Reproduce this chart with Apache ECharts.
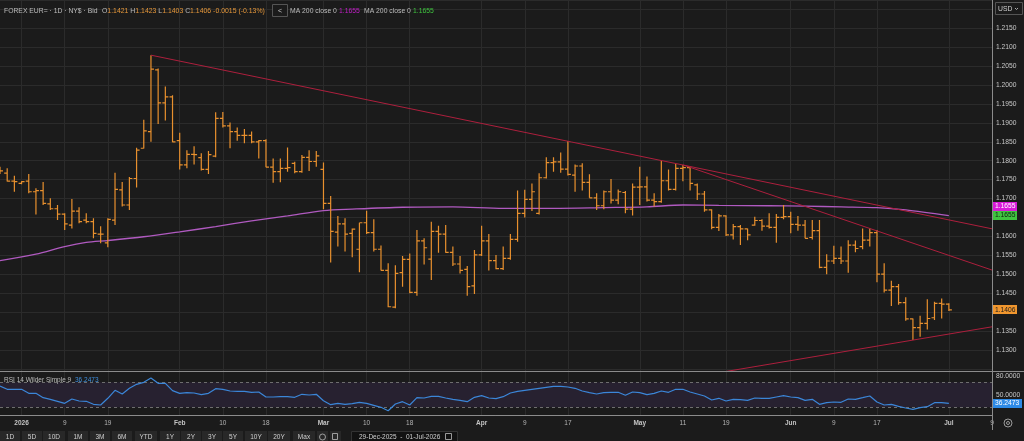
<!DOCTYPE html>
<html>
<head>
<meta charset="utf-8">
<script src="https://cdn.jsdelivr.net/npm/echarts@6.0.0/dist/echarts.min.js"></script>
<style>
html, body { margin: 0; padding: 0; background: #1b1b1b; }
#TreeContainer { width: 1024px; height: 441px; }
</style>
</head>
<body>
<div id="TreeContainer"></div>
<script>
// trading days shown on the axis: 29-Dec-2025 .. 09-Jul-2026 (weekdays)
let dates = [];
let day = new Date(Date.UTC(2025, 11, 29));
let lastDay = new Date(Date.UTC(2026, 6, 9));
while (day <= lastDay) {
    let wd = day.getUTCDay();
    if (wd !== 0 && wd !== 6) dates.push(day.toISOString().slice(0, 10));
    day.setUTCDate(day.getUTCDate() + 1);
}

let tickDates = ['2026-01-01','2026-01-09','2026-01-19','2026-02-02','2026-02-10','2026-02-18',
    '2026-03-02','2026-03-10','2026-03-18','2026-04-01','2026-04-09','2026-04-17',
    '2026-05-01','2026-05-11','2026-05-19','2026-06-01','2026-06-09','2026-06-17',
    '2026-07-01','2026-07-09'];
let tickLabels = ['2026','9','19','Feb','10','18','Mar','10','18','Apr','9','17',
    'May','11','19','Jun','9','17','Jul','9'];

// daily OHLC, one value per trading day from 29-Dec-2025 to 01-Jul-2026
let opens = [
1.1780,1.1767,1.1746,1.1740,1.1746,1.1718,1.1721,1.1686,1.1673,1.1659,
1.1630,1.1667,1.1643,1.1639,1.1606,1.1583,1.1643,1.1723,1.1683,1.1753,
1.1833,1.1877,1.2040,1.1953,1.1969,1.1853,1.1789,1.1817,1.1808,1.1777,
1.1812,1.1912,1.1892,1.1877,1.1867,1.1867,1.1850,1.1853,1.1783,1.1771,
1.1780,1.1793,1.1771,1.1809,1.1798,1.1777,1.1687,1.1611,1.1633,1.1608,
1.1566,1.1636,1.1610,1.1566,1.1510,1.1413,1.1504,1.1539,1.1452,1.1588,
1.1540,1.1613,1.1606,1.1558,1.1527,1.1513,1.1469,1.1551,1.1588,1.1536,
1.1515,1.1542,1.1592,1.1661,1.1698,1.1661,1.1755,1.1795,1.1797,1.1778,
1.1762,1.1786,1.1743,1.1702,1.1681,1.1718,1.1696,1.1716,1.1672,1.1730,
1.1731,1.1696,1.1692,1.1747,1.1724,1.1780,1.1782,1.1736,1.1712,1.1670,
1.1624,1.1654,1.1604,1.1626,1.1620,1.1630,1.1642,1.1627,1.1624,1.1650,
1.1652,1.1632,1.1630,1.1597,1.1615,1.1518,1.1535,1.1542,1.1535,1.1577,
1.1573,1.1590,1.1610,1.1500,1.1458,1.1467,1.1425,1.1382,1.1359,1.1370,
1.1385,1.1423,1.1421];
let highs = [
1.1784,1.1780,1.1760,1.1746,1.1765,1.1727,1.1744,1.1701,1.1683,1.1661,
1.1699,1.1677,1.1661,1.1648,1.1627,1.1648,1.1768,1.1744,1.1757,1.1834,
1.1908,1.2079,1.2044,1.1996,1.1973,1.1874,1.1828,1.1838,1.1820,1.1826,
1.1928,1.1929,1.1901,1.1888,1.1884,1.1877,1.1855,1.1857,1.1806,1.1806,
1.1835,1.1797,1.1815,1.1828,1.1826,1.1795,1.1707,1.1654,1.1648,1.1621,
1.1636,1.1668,1.1645,1.1576,1.1529,1.1524,1.1548,1.1555,1.1617,1.1595,
1.1639,1.1628,1.1630,1.1573,1.1548,1.1522,1.1564,1.1628,1.1606,1.1551,
1.1573,1.1606,1.1721,1.1723,1.1740,1.1767,1.1809,1.1809,1.1822,1.1852,
1.1790,1.1793,1.1764,1.1714,1.1721,1.1752,1.1724,1.1720,1.1740,1.1784,
1.1758,1.1714,1.1800,1.1777,1.1791,1.1789,1.1784,1.1740,1.1720,1.1672,
1.1659,1.1656,1.1633,1.1630,1.1621,1.1652,1.1645,1.1661,1.1659,1.1683,
1.1665,1.1654,1.1643,1.1643,1.1643,1.1553,1.1575,1.1573,1.1590,1.1589,
1.1621,1.1621,1.1617,1.1529,1.1483,1.1474,1.1439,1.1383,1.1390,1.1434,
1.1427,1.1436,1.1423];
let lows = [
1.1765,1.1745,1.1718,1.1738,1.1714,1.1658,1.1683,1.1670,1.1643,1.1617,
1.1621,1.1635,1.1635,1.1595,1.1582,1.1571,1.1630,1.1679,1.1670,1.1729,
1.1832,1.1850,1.1897,1.1906,1.1849,1.1777,1.1780,1.1790,1.1774,1.1765,
1.1809,1.1888,1.1833,1.1853,1.1846,1.1846,1.1806,1.1783,1.1742,1.1743,
1.1771,1.1767,1.1768,1.1773,1.1784,1.1672,1.1531,1.1573,1.1560,1.1545,
1.1505,1.1606,1.1560,1.1510,1.1413,1.1410,1.1467,1.1450,1.1443,1.1526,
1.1485,1.1557,1.1557,1.1522,1.1502,1.1443,1.1448,1.1548,1.1510,1.1513,
1.1511,1.1538,1.1586,1.1650,1.1667,1.1658,1.1753,1.1771,1.1768,1.1761,
1.1718,1.1721,1.1702,1.1670,1.1672,1.1687,1.1685,1.1661,1.1655,1.1683,
1.1692,1.1679,1.1689,1.1721,1.1721,1.1746,1.1721,1.1696,1.1665,1.1619,
1.1614,1.1601,1.1592,1.1577,1.1590,1.1628,1.1615,1.1621,1.1583,1.1645,
1.1608,1.1615,1.1595,1.1592,1.1516,1.1500,1.1527,1.1527,1.1504,1.1558,
1.1566,1.1573,1.1479,1.1452,1.1416,1.1419,1.1377,1.1326,1.1335,1.1354,
1.1379,1.1383,1.1403];
let closes = [
1.1773,1.1746,1.1745,1.1745,1.1718,1.1721,1.1687,1.1673,1.1659,1.1633,
1.1667,1.1639,1.1639,1.1608,1.1606,1.1645,1.1724,1.1683,1.1753,1.1828,
1.1879,1.2042,1.1953,1.1969,1.1850,1.1789,1.1817,1.1816,1.1777,1.1816,
1.1912,1.1892,1.1877,1.1867,1.1867,1.1850,1.1853,1.1783,1.1771,1.1780,
1.1782,1.1771,1.1809,1.1798,1.1813,1.1687,1.1613,1.1633,1.1606,1.1619,
1.1636,1.1610,1.1566,1.1510,1.1414,1.1502,1.1539,1.1452,1.1588,1.1570,
1.1613,1.1606,1.1558,1.1527,1.1510,1.1467,1.1551,1.1588,1.1536,1.1515,
1.1542,1.1592,1.1661,1.1698,1.1718,1.1755,1.1795,1.1797,1.1778,1.1764,
1.1786,1.1743,1.1702,1.1681,1.1718,1.1696,1.1718,1.1672,1.1730,1.1731,
1.1696,1.1692,1.1747,1.1724,1.1780,1.1782,1.1740,1.1712,1.1670,1.1624,
1.1654,1.1604,1.1626,1.1620,1.1604,1.1642,1.1627,1.1624,1.1650,1.1652,
1.1632,1.1630,1.1595,1.1615,1.1518,1.1535,1.1542,1.1535,1.1577,1.1568,
1.1590,1.1610,1.1500,1.1458,1.1467,1.1425,1.1382,1.1359,1.1370,1.1383,
1.1423,1.1421,1.1406];

// RSI 14, one value per trading day
let rsi = [
64.1,58.8,58.8,58.8,52.4,52.4,45.4,42.8,39.6,36.4,
43.3,40.1,39.6,34.8,33.7,44.4,57.2,51.3,60.4,66.8,
70.0,76.9,68.4,68.4,56.6,52.4,53.4,52.9,50.2,52.4,
59.8,58.8,56.1,55.6,55.6,54.0,54.5,46.5,46.5,47.0,
47.0,46.0,50.8,49.7,50.8,40.6,34.2,36.4,34.8,35.8,
38.0,36.4,33.2,30.0,24.6,35.3,39.0,33.7,45.4,44.9,
47.6,47.6,44.9,42.8,41.2,39.0,46.0,48.6,44.9,43.8,
47.0,52.9,55.6,57.2,58.8,60.4,62.0,63.6,63.6,62.5,
60.4,56.1,53.4,51.3,53.4,54.0,54.0,49.2,54.5,53.4,
50.2,52.4,56.1,54.0,58.8,58.8,54.5,51.3,48.1,41.7,
44.4,40.1,42.8,42.2,41.2,44.9,44.4,44.4,46.5,48.6,
46.5,45.4,41.2,42.8,34.8,37.4,38.5,38.0,43.3,42.8,
45.4,48.1,38.5,33.7,34.8,31.6,28.9,26.8,29.4,31.0,
37.4,37.4,36.2473];

// MA 200 read at a few days (index into dates), joined by the line series
let maIdx = [0,5,9,12,15,20,25,30,35,40,45,49,56,63,70,77,84,90,95,100,107,112,117,122,126,132];
let maVal = [1.1536,1.1553,1.1573,1.1584,1.1589,1.1599,1.1612,1.1626,1.1641,1.1654,1.1668,1.1672,1.1677,
    1.1678,1.1674,1.1674,1.1676,1.1678,1.1683,1.1682,1.1681,1.1680,1.1678,1.1676,1.1670,1.1655];

// hand drawn trend lines: [startIdx, startPrice, endIdx, endPrice]
let trendLines = [
    [21, 1.2079, 138, 1.1620],
    [95, 1.1789, 138, 1.1511],
    [96, 1.1227, 138, 1.1361]
];

let lastPrice = 1.1406;
let maLast = 1.1655;
let rsiLast = 36.2473;

let FONT = 'Liberation Sans, Arial, sans-serif';
let ORANGE = '#e8902e';

let chartDom = document.getElementById('TreeContainer');
let myChart = echarts.init(chartDom);

let ohlc = opens.map(function (o, i) { return [i, o, highs[i], lows[i], closes[i]]; });
let tickSet = {};
tickDates.forEach(function (d, i) { tickSet[d] = tickLabels[i]; });
let bold = { '2026': 1, 'Feb': 1, 'Mar': 1, 'Apr': 1, 'May': 1, 'Jun': 1, 'Jul': 1 };

// OHLC bar: high-low stick, open tick left, close tick right
function renderBar(params, api) {
    let i = api.value(0);
    let x = api.coord([i, api.value(2)])[0];
    let yo = api.coord([i, api.value(1)])[1];
    let yh = api.coord([i, api.value(2)])[1];
    let yl = api.coord([i, api.value(3)])[1];
    let yc = api.coord([i, api.value(4)])[1];
    let path = 'M' + x + ' ' + yh + 'L' + x + ' ' + yl +
        'M' + (x - 3) + ' ' + yo + 'L' + x + ' ' + yo +
        'M' + x + ' ' + yc + 'L' + (x + 3) + ' ' + yc;
    return {
        type: 'path',
        shape: { pathData: path },
        style: { stroke: ORANGE, fill: null, lineWidth: 1.2 }
    };
}

let priceFmt = function (v) {
    let r = Math.round(v * 10000) / 10000;
    if (r < 1.1299 || r > 1.2151) return '';
    if (Math.abs(r * 200 - Math.round(r * 200)) > 1e-6) return '';
    return r.toFixed(4);
};

let option = {
    backgroundColor: '#1b1b1b',
    animation: false,
    grid: [
        { left: 0, right: 32, top: 0, height: 371, outerBoundsMode: 'none', containLabel: false },
        { left: 0, right: 32, top: 371, height: 44, outerBoundsMode: 'none', containLabel: false }
    ],
    xAxis: [
        {
            type: 'category', gridIndex: 0, data: dates, boundaryGap: false,
            axisLine: { show: false }, axisTick: { show: false }, axisLabel: { show: false },
            splitLine: { show: true, interval: function (i, v) { return tickSet[v] !== undefined; },
                lineStyle: { color: '#2b2b2b', width: 1 } }
        },
        {
            type: 'category', gridIndex: 1, data: dates, boundaryGap: false,
            axisLine: { show: true, lineStyle: { color: '#8c8c8c', width: 1 } },
            axisTick: { show: false },
            splitLine: { show: true, interval: function (i, v) { return tickSet[v] !== undefined; },
                lineStyle: { color: '#2b2b2b', width: 1 } },
            axisLabel: {
                show: true, margin: 5, fontSize: 6.5, fontFamily: FONT, color: '#b4b4b4',
                // index 0 carries an empty label so that '2026' is not treated as the edge label
                interval: function (i, v) { return i === 0 || tickSet[v] !== undefined; },
                formatter: function (v) {
                    let t = tickSet[v];
                    if (t === undefined) return ' ';
                    return bold[t] ? '{b|' + t + '}' : t;
                },
                rich: { b: { fontSize: 6.5, fontWeight: 'bold', fontFamily: FONT, color: '#c4c4c4' } }
            }
        }
    ],
    yAxis: [
        {
            type: 'value', gridIndex: 0, position: 'right', scale: true,
            min: 1.12442, max: 1.22248, splitNumber: 20, minInterval: 0.005, maxInterval: 0.005,
            axisLine: { show: false }, axisTick: { show: false },
            splitLine: { show: true, lineStyle: { color: '#2b2b2b', width: 1 } },
            axisLabel: { margin: 4, fontSize: 6.7, fontFamily: FONT, color: '#c8c8c8', formatter: priceFmt }
        },
        {
            type: 'value', gridIndex: 1, position: 'right',
            min: 17.7, max: 88.1, splitNumber: 7, minInterval: 10, maxInterval: 10,
            axisLine: { show: false }, axisTick: { show: false }, splitLine: { show: false },
            axisLabel: {
                margin: 4, fontSize: 6.7, fontFamily: FONT, color: '#c8c8c8',
                formatter: function (v) {
                    let r = Math.round(v * 100) / 100;
                    return (r === 80 || r === 50) ? r.toFixed(4) : '';
                }
            }
        }
    ],
    series: [
        {
            name: 'MA 200', type: 'line', xAxisIndex: 0, yAxisIndex: 0, smooth: 0.3,
            symbol: 'none', data: maIdx.map(function (i, k) { return [dates[i], maVal[k]]; }),
            lineStyle: { color: '#b05ac0', width: 1.3 }, z: 2
        },
        {
            name: 'EUR', type: 'custom', xAxisIndex: 0, yAxisIndex: 0, clip: true, silent: true,
            emphasis: { disabled: true },
            renderItem: renderBar, encode: { x: 0, y: [1, 2, 3, 4] }, data: ohlc, z: 3
        }
    ].concat(trendLines.map(function (t) {
        return {
            type: 'line', xAxisIndex: 0, yAxisIndex: 0, symbol: 'none', clip: true, z: 4,
            data: [[dates[t[0]], t[1]], [dates[t[2]], t[3]]],
            lineStyle: { color: '#ad1f3d', width: 1 }
        };
    })).concat([
        {
            name: 'RSI', type: 'line', xAxisIndex: 1, yAxisIndex: 1, symbol: 'none',
            data: rsi.map(function (v, i) { return [dates[i], v]; }),
            lineStyle: { color: '#3b86d8', width: 1.2 }, z: 5,
            markArea: { silent: true, itemStyle: { color: '#272130' }, data: [[{ yAxis: 30 }, { yAxis: 70 }]] },
            markLine: {
                silent: true, symbol: 'none', label: { show: false },
                lineStyle: { color: '#6e6e6e', type: [3, 3], width: 1 },
                data: [{ yAxis: 30 }, { yAxis: 70 }]
            }
        }
    ])
};

myChart.setOption(option);

// chrome: header, right-hand value tags, toolbar
let yLast = myChart.convertToPixel({ yAxisIndex: 0 }, lastPrice);
let yMa = myChart.convertToPixel({ yAxisIndex: 0 }, maLast);
let yRsi = myChart.convertToPixel({ yAxisIndex: 1 }, rsiLast);

function tag(y, w, fill, txtColor, txt) {
    return [
        { type: 'rect', z: 200, shape: { x: 993, y: Math.round(y - 4.5), width: w, height: 9 }, style: { fill: fill } },
        { type: 'text', z: 201, x: 995, y: y, style: { text: txt, fill: txtColor, font: '6.7px ' + FONT, verticalAlign: 'middle' } }
    ];
}

let txt = function (x, y, s, color, size, align) {
    return { type: 'text', z: 200, x: x, y: y, style: { text: s, fill: color || '#bdbdbd', font: (size || 6.8) + 'px ' + FONT, verticalAlign: 'middle', align: align || 'left' } };
};

let graphics = [
    // panel borders
    { type: 'line', z: 150, shape: { x1: 0, y1: 371.5, x2: 1024, y2: 371.5 }, style: { stroke: '#8c8c8c', lineWidth: 1 } },
    { type: 'line', z: 150, shape: { x1: 992.5, y1: 0, x2: 992.5, y2: 430 }, style: { stroke: '#8c8c8c', lineWidth: 1 } },
    // header
    txt(4, 11, 'FOREX EUR= · 1D · NY$ · Bid'),
    {
        type: 'text', z: 200, x: 102, y: 11,
        style: {
            text: '{g|O}{o|1.1421} {g|H}{o|1.1423} {g|L}{o|1.1403} {g|C}{o|1.1406} {o|-0.0015 (-0.13%)}',
            verticalAlign: 'middle', font: '6.9px ' + FONT,
            rich: { g: { fill: '#bdbdbd', font: '6.9px ' + FONT }, o: { fill: '#e5973a', font: '6.9px ' + FONT } }
        }
    },
    { type: 'rect', z: 200, shape: { x: 272.5, y: 4.5, width: 15, height: 12 }, style: { fill: '#1b1b1b', stroke: '#555', lineWidth: 1 } },
    txt(280, 11, '<', '#cfcfcf', 7, 'center'),
    txt(290, 11, 'MA 200 close 0'),
    txt(339, 11, '1.1655', '#c21fc8'),
    txt(364, 11, 'MA 200 close 0'),
    txt(413, 11, '1.1655', '#3fc43f'),
    // USD selector
    { type: 'rect', z: 200, shape: { x: 995.5, y: 2.5, width: 27, height: 12 }, style: { fill: '#1b1b1b', stroke: '#555', lineWidth: 1 } },
    txt(998, 9, 'USD', '#cfcfcf'),
    { type: 'polyline', z: 200, shape: { points: [[1015, 8], [1016.5, 9.5], [1018, 8]] }, style: { stroke: '#cfcfcf', lineWidth: 0.8, fill: null } },
    // RSI header
    txt(4, 380, 'RSI 14 Wilder Simple 9', '#bdbdbd', 6.5),
    txt(75, 380, '36.2473', '#3d8fe0', 6.5),
    // settings icon at bottom right
    { type: 'circle', z: 200, shape: { cx: 1008, cy: 423, r: 4 }, style: { fill: null, stroke: '#9a9a9a', lineWidth: 1 } },
    { type: 'circle', z: 200, shape: { cx: 1008, cy: 423, r: 1.5 }, style: { fill: null, stroke: '#9a9a9a', lineWidth: 1 } }
];

graphics = graphics.concat(tag(yMa - 9, 24, '#d81ad8', '#ffffff', '1.1655'));
graphics = graphics.concat(tag(yMa, 24, '#3fc43f', '#102010', '1.1655'));
graphics = graphics.concat(tag(yLast, 24, '#f0962e', '#1a1a1a', '1.1406'));
graphics = graphics.concat(tag(yRsi, 29, '#2e8ae6', '#ffffff', '36.2473'));

// range buttons
let btnText = ['1D','5D','10D','1M','3M','6M','YTD','1Y','2Y','3Y','5Y','10Y','20Y','Max'];
let btnX = [10,32,54,78,100,122,146,170,191,212,233,256,279,304];
btnText.forEach(function (b, i) {
    let w = b.length > 2 ? 22 : 20;
    graphics.push({ type: 'rect', z: 200, shape: { x: btnX[i] - w / 2, y: 431, width: w, height: 12 }, style: { fill: '#282828' } });
    graphics.push(txt(btnX[i], 437, b, '#cfcfcf', 6.5, 'center'));
});
graphics.push({ type: 'rect', z: 200, shape: { x: 317, y: 431, width: 11, height: 12 }, style: { fill: '#282828' } });
graphics.push({ type: 'circle', z: 201, shape: { cx: 322.5, cy: 437, r: 3 }, style: { fill: null, stroke: '#bbb', lineWidth: 0.8 } });
graphics.push({ type: 'rect', z: 200, shape: { x: 330, y: 431, width: 11, height: 12 }, style: { fill: '#282828' } });
graphics.push({ type: 'rect', z: 201, shape: { x: 332.5, y: 433.5, width: 5, height: 6 }, style: { fill: null, stroke: '#bbb', lineWidth: 0.8 } });
graphics.push({ type: 'rect', z: 200, shape: { x: 351.5, y: 431.5, width: 106, height: 12 }, style: { fill: '#121212', stroke: '#333', lineWidth: 1 } });
graphics.push(txt(359, 437, '29-Dec-2025  -  01-Jul-2026', '#cfcfcf', 6.5));
graphics.push({ type: 'rect', z: 201, shape: { x: 445.5, y: 433.5, width: 6, height: 6 }, style: { fill: null, stroke: '#bbb', lineWidth: 0.8 } });

myChart.setOption({ graphic: graphics });
</script>
</body>
</html>
